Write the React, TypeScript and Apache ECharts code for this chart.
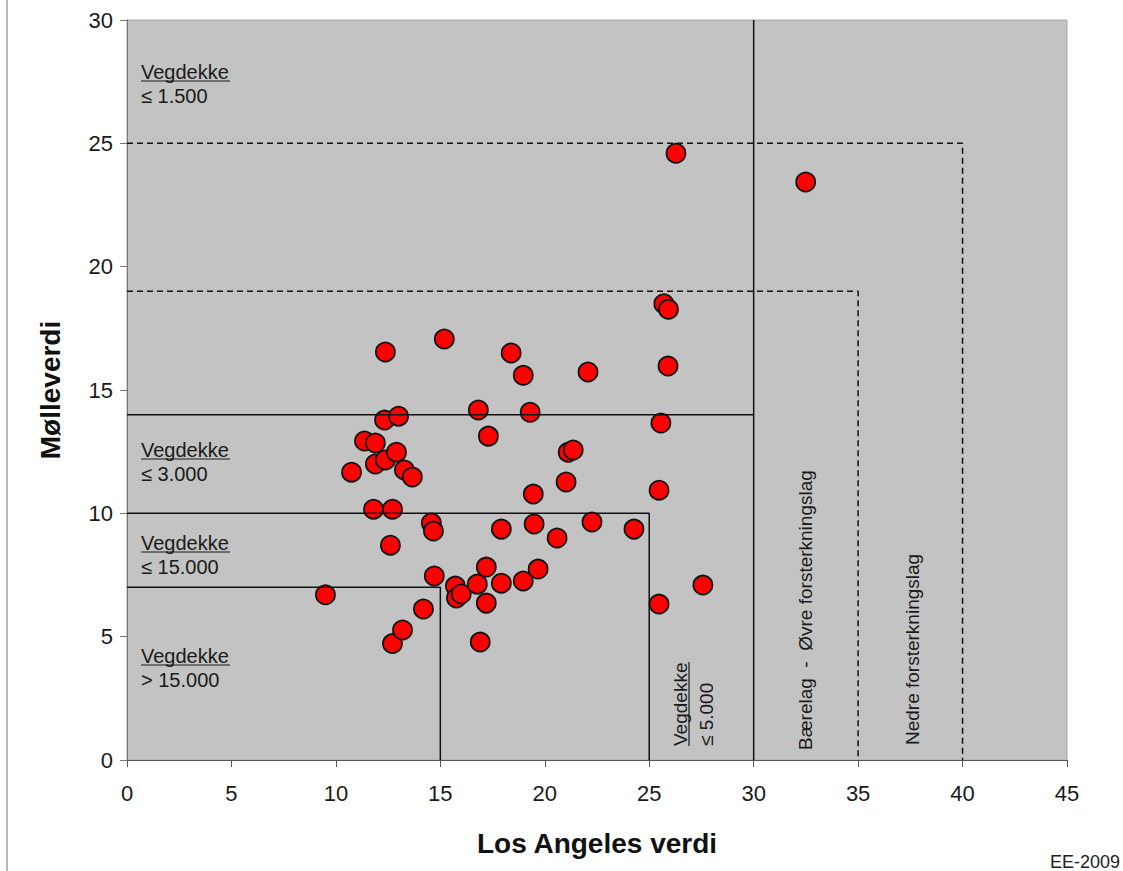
import React, { useEffect, useRef } from "react";
import * as echarts from "echarts";

// Los Angeles verdi (x) and Mølleverdi (y) for each sample
const laValues = [
  9.5, 10.75, 11.37, 11.89, 11.89, 12.37, 12.33, 12.37, 12.9, 13.0, 13.28, 13.66,
  11.8, 12.71, 12.61, 12.71, 13.19, 14.19, 14.57, 14.67, 14.71, 15.19, 15.72, 15.77,
  16.0, 16.82, 16.77, 16.91, 17.2, 17.2, 17.3, 17.92, 17.92, 18.39, 18.97, 19.3,
  19.45, 19.49, 18.97, 19.68, 20.59, 21.02, 21.12, 21.36, 22.07, 22.26, 24.27, 25.47,
  25.47, 25.56, 25.7, 25.92, 25.9, 26.28, 27.57, 32.49,
];
const millValues = [
  6.7, 11.67, 12.93, 12.85, 12.0, 16.54, 13.78, 12.16, 12.48, 13.94, 11.76, 11.47,
  10.17, 10.17, 8.71, 4.72, 5.27, 6.12, 9.61, 9.28, 7.46, 17.07, 7.05, 6.57,
  6.73, 14.19, 7.13, 4.78, 7.82, 6.36, 13.13, 9.36, 7.17, 16.5, 15.6, 14.1,
  10.78, 9.57, 7.26, 7.74, 9.0, 11.27, 12.48, 12.57, 15.73, 9.65, 9.36, 6.32,
  10.94, 13.66, 18.5, 18.27, 15.97, 24.6, 7.09, 23.43,
];

// Boundary lines (solid)
const solidBoundaries: number[][][] = [
  [[0, 7], [15, 7], [15, 0]],
  [[0, 10], [25, 10], [25, 0]],
  [[0, 14], [30, 14]],
  [[30, 0], [30, 30]],
];
// Boundary lines (dashed)
const dashedBoundaries: number[][][] = [
  [[0, 25], [40, 25], [40, 0]],
  [[0, 19], [35, 19], [35, 0]],
];

const xTicks = { min: 0, max: 45, interval: 5 };
const yTicks = { min: 0, max: 30, interval: 5 };

const FONT = "'Liberation Sans', Arial, Helvetica, sans-serif";

function hLabel(x: number, y: number, second: string) {
  const fs = 20;
  const w = 89;
  return {
    type: "group",
    children: [
      { type: "text", x, y, style: { text: "Vegdekke", font: `${fs}px ${FONT}`, fill: "#1a1a1a", align: "left", verticalAlign: "middle" } },
      { type: "line", shape: { x1: x, y1: y + 9, x2: x + w, y2: y + 9 }, style: { stroke: "#1a1a1a", lineWidth: 1.2 } },
      { type: "text", x, y: y + 24, style: { text: second, font: `${fs}px ${FONT}`, fill: "#1a1a1a", align: "left", verticalAlign: "middle" } },
    ],
  };
}

function vText(x: number, y: number, text: string) {
  return {
    type: "text",
    x,
    y,
    rotation: Math.PI / 2,
    style: { text, font: `19px ${FONT}`, fill: "#1a1a1a", align: "left", verticalAlign: "middle" },
  };
}

export default function App() {
  const ref = useRef<HTMLDivElement>(null);

  useEffect(() => {
    document.body.style.margin = "0";
    if (!ref.current) return;
    const chart = echarts.init(ref.current, undefined, { renderer: "svg" });

    const points = laValues.map((x, i) => [x, millValues[i]]);

    const lineSeries: any[] = [];
    solidBoundaries.forEach((d) =>
      lineSeries.push({
        type: "line",
        data: d,
        symbol: "none",
        silent: true,
        z: 5,
        lineStyle: { color: "#111", width: 1.5, type: "solid" },
      })
    );
    dashedBoundaries.forEach((d) =>
      lineSeries.push({
        type: "line",
        data: d,
        symbol: "none",
        silent: true,
        z: 5,
        lineStyle: { color: "#111", width: 1.5, type: [6, 4] },
      })
    );

    chart.setOption({
      animation: false,
      backgroundColor: "#ffffff",
      grid: {
        left: 127,
        right: 56,
        top: 20,
        bottom: 111,
        show: true,
        backgroundColor: "#c3c3c3",
        borderColor: "#a8a8a8",
        borderWidth: 1,
        outerBoundsMode: "none",
      },
      xAxis: {
        type: "value",
        ...xTicks,
        name: "Los Angeles verdi",
        nameLocation: "middle",
        nameGap: 69,
        nameTextStyle: { fontFamily: FONT, fontSize: 28, fontWeight: "bold", color: "#111" },
        axisLine: { show: true, lineStyle: { color: "#555", width: 1 } },
        axisTick: { show: true, length: 7, lineStyle: { color: "#555" } },
        axisLabel: { fontFamily: FONT, fontSize: 22, color: "#1a1a1a", margin: 22 },
        splitLine: { show: false },
      },
      yAxis: {
        type: "value",
        ...yTicks,
        name: "Mølleverdi",
        nameLocation: "middle",
        nameGap: 63,
        nameTextStyle: { fontFamily: FONT, fontSize: 28, fontWeight: "bold", color: "#111" },
        axisLine: { show: true, lineStyle: { color: "#777", width: 1 } },
        axisTick: { show: true, length: 7, lineStyle: { color: "#777" } },
        axisLabel: { fontFamily: FONT, fontSize: 22, color: "#1a1a1a", margin: 14 },
        splitLine: { show: false },
      },
      series: [
        {
          type: "scatter",
          data: points,
          symbol: "circle",
          symbolSize: 19,
          z: 3,
          itemStyle: { color: "#ff0000", borderColor: "#111", borderWidth: 1.8, opacity: 1 },
        },
        ...lineSeries,
      ],
      graphic: [
        { type: "line", shape: { x1: 7, y1: 0, x2: 7, y2: 871 }, style: { stroke: "#b5b5b5", lineWidth: 2 } },
        hLabel(141, 72, "≤ 1.500"),
        hLabel(141, 450, "≤ 3.000"),
        hLabel(141, 543, "≤ 15.000"),
        hLabel(141, 656, "> 15.000"),
        {
          type: "group",
          children: [
            vText(680, 746, "Vegdekke"),
            { type: "line", shape: { x1: 689, y1: 746, x2: 689, y2: 746 - 84 }, style: { stroke: "#1a1a1a", lineWidth: 1.2 } },
            vText(706, 746, "≤ 5.000"),
          ],
        },
        vText(805, 750, "Bærelag  -  Øvre forsterkningslag"),
        vText(912, 745, "Nedre forsterkningslag"),
        {
          type: "text",
          x: 1120,
          y: 862,
          style: { text: "EE-2009", font: `18px ${FONT}`, fill: "#222", align: "right", verticalAlign: "middle" },
        },
      ],
    });

    return () => chart.dispose();
  }, []);

  return <div ref={ref} style={{ position: "absolute", left: 0, top: 0, width: 1123, height: 871 }} />;
}
